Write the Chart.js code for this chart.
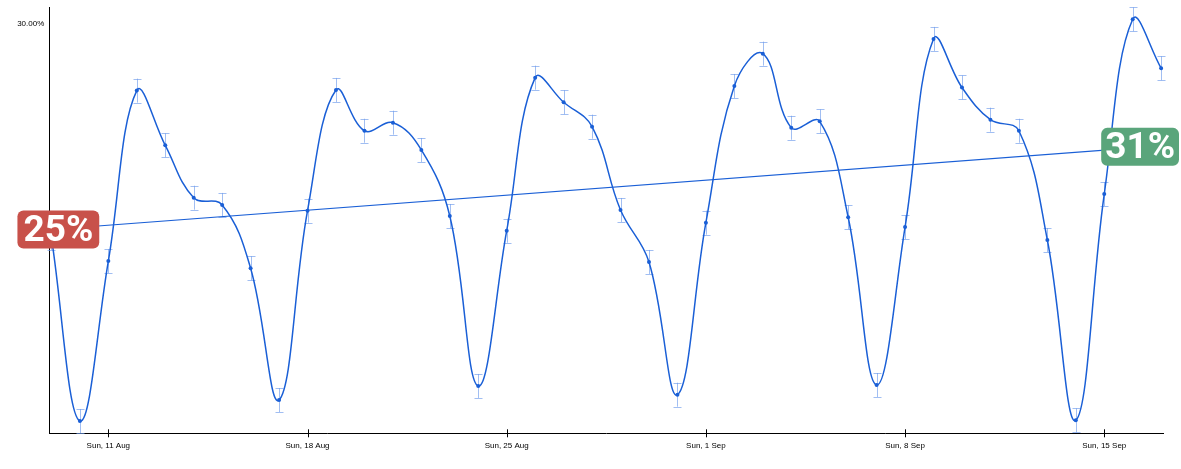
<!DOCTYPE html>
<html>
<head>
<meta charset="utf-8">
<title>Daily rate</title>
<script src="https://cdn.jsdelivr.net/npm/chart.js"></script>
<style>
    html, body { margin: 0; padding: 0; background: #fff; }
    #wrap { width: 1181px; height: 469px; position: relative; }
</style>
</head>
<body>
<div id="wrap"><canvas id="rateChart"></canvas></div>
<script>
// Days shown on the x axis (2024)
const dates = [
    "9 Aug", "10 Aug", "11 Aug", "12 Aug", "13 Aug", "14 Aug", "15 Aug", "16 Aug", "17 Aug", "18 Aug",
    "19 Aug", "20 Aug", "21 Aug", "22 Aug", "23 Aug", "24 Aug", "25 Aug", "26 Aug", "27 Aug", "28 Aug",
    "29 Aug", "30 Aug", "31 Aug", "1 Sep", "2 Sep", "3 Sep", "4 Sep", "5 Sep", "6 Sep", "7 Sep",
    "8 Sep", "9 Sep", "10 Sep", "11 Sep", "12 Sep", "13 Sep", "14 Sep", "15 Sep", "16 Sep", "17 Sep"
];

// Daily rate in %
const rates = [
    14.32, 0.90, 12.63, 25.12, 21.11, 17.27, 16.74, 12.10, 2.44, 16.32,
    25.17, 22.18, 22.77, 20.77, 15.93, 3.47, 14.85, 26.07, 24.27, 22.48,
    16.37, 12.56, 2.83, 15.44, 25.46, 27.83, 22.40, 22.87, 15.84, 3.54,
    15.12, 28.91, 25.35, 22.99, 22.18, 14.17, 0.95, 17.54, 30.35, 26.76
];

// +/- error on each day (%)
const errors = [
    0.88, 0.88, 0.88, 0.88, 0.88, 0.88, 0.88, 0.88, 0.88, 0.88,
    0.88, 0.88, 0.88, 0.88, 0.88, 0.88, 0.88, 0.88, 0.88, 0.88,
    0.88, 0.88, 0.88, 0.88, 0.88, 0.88, 0.88, 0.88, 0.88, 0.88,
    0.88, 0.88, 0.88, 0.88, 0.88, 0.88, 0.88, 0.88, 0.88, 0.88
];

// Trend line start / end values and the badges shown on them
const trendValues = [14.94, 21.07];
const trendBadges = ["25%", "31%"];

// Tick labels
const xTickLabels = ["Sun, 11 Aug", "Sun, 18 Aug", "Sun, 25 Aug", "Sun, 1 Sep", "Sun, 8 Sep", "Sun, 15 Sep"];
const xTickDates = ["11 Aug", "18 Aug", "25 Aug", "1 Sep", "8 Sep", "15 Sep"];
const yTickValues = [30];

const lineColor = "#1a5fd6";
const errorColor = "rgba(110, 155, 235, 0.65)";

/* --------------------------
   Plugins
---------------------------- */
// Error bars behind the line
const errorBarPlugin = {
    id: "errorBars",
    beforeDatasetsDraw(chart) {
        const ctx = chart.ctx;
        const x = chart.scales.x;
        const y = chart.scales.y;
        ctx.save();
        ctx.strokeStyle = errorColor;
        ctx.lineWidth = 1;
        rates.forEach((v, i) => {
            const px = Math.round(x.getPixelForValue(i)) + 0.5;
            const top = y.getPixelForValue(v + errors[i]);
            const bottom = y.getPixelForValue(v - errors[i]);
            ctx.beginPath();
            ctx.moveTo(px, top);
            ctx.lineTo(px, bottom);
            ctx.moveTo(px - 4, Math.round(top) + 0.5);
            ctx.lineTo(px + 4, Math.round(top) + 0.5);
            ctx.moveTo(px - 4, Math.round(bottom) + 0.5);
            ctx.lineTo(px + 4, Math.round(bottom) + 0.5);
            ctx.stroke();
        });
        ctx.restore();
    }
};

// Tick marks across the x axis and the two trend badges
function roundRect(ctx, x, y, w, h, r) {
    ctx.beginPath();
    ctx.moveTo(x + r, y);
    ctx.arcTo(x + w, y, x + w, y + h, r);
    ctx.arcTo(x + w, y + h, x, y + h, r);
    ctx.arcTo(x, y + h, x, y, r);
    ctx.arcTo(x, y, x + w, y, r);
    ctx.closePath();
}

const overlayPlugin = {
    id: "overlay",
    afterDraw(chart) {
        const ctx = chart.ctx;
        const x = chart.scales.x;
        const y = chart.scales.y;
        const area = chart.chartArea;
        ctx.save();
        ctx.strokeStyle = "#000";
        ctx.lineWidth = 1;
        x.ticks.forEach(t => {
            const px = Math.round(x.getPixelForValue(t.value)) + 0.5;
            ctx.beginPath();
            ctx.moveTo(px, area.bottom - 4);
            ctx.lineTo(px, area.bottom + 4);
            ctx.stroke();
        });

        ctx.font = "bold 37px Roboto";
        ctx.textAlign = "center";
        ctx.textBaseline = "middle";
        const h = 38;
        // left badge
        let w = ctx.measureText(trendBadges[0]).width + 12;
        let cy = y.getPixelForValue(trendValues[0]);
        let left = x.getPixelForValue(0) - 34;
        ctx.fillStyle = "#c8514a";
        roundRect(ctx, left, cy - h / 2, w, h, 6);
        ctx.fill();
        ctx.fillStyle = "#fff";
        ctx.fillText(trendBadges[0], left + w / 2, cy + 2);
        // right badge, kept inside the canvas
        w = ctx.measureText(trendBadges[1]).width + 8;
        cy = y.getPixelForValue(trendValues[1]) + 1;
        left = chart.width - 2 - w;
        ctx.fillStyle = "#5aa57b";
        roundRect(ctx, left, cy - h / 2, w, h, 6);
        ctx.fill();
        ctx.fillStyle = "#fff";
        ctx.fillText(trendBadges[1], left + w / 2, cy + 2);
        ctx.restore();
    }
};

/* --------------------------
   Chart
---------------------------- */
function renderRateChart() {
    const ctx = document.getElementById("rateChart").getContext("2d");
    new Chart(ctx, {
        type: "line",
        data: {
            datasets: [{
                label: "Rate",
                data: rates.map((v, i) => ({ x: i, y: v })),
                borderColor: lineColor,
                backgroundColor: lineColor,
                borderWidth: 1.5,
                pointRadius: 2,
                pointBorderWidth: 0,
                tension: 0.4,
                fill: false
            }, {
                label: "Trend",
                data: [{ x: 0, y: trendValues[0] }, { x: dates.length - 1, y: trendValues[1] }],
                borderColor: lineColor,
                borderWidth: 1.2,
                pointRadius: 0,
                tension: 0,
                fill: false
            }]
        },
        options: {
            responsive: true,
            maintainAspectRatio: false,
            animation: false,
            layout: { padding: { top: 7, right: 17.7, left: 0, bottom: 0 } },
            plugins: {
                legend: { display: false },
                tooltip: { enabled: false }
            },
            scales: {
                x: {
                    type: "linear",
                    min: -0.075,
                    max: dates.length - 1 + 0.075,
                    grid: { display: false, drawTicks: false },
                    border: { display: true, color: "#000", width: 1 },
                    afterBuildTicks: axis => {
                        axis.ticks = xTickDates.map(d => ({ value: dates.indexOf(d) }));
                    },
                    afterFit: axis => {
                        axis.height = 35.7;
                        axis.paddingLeft = 0;
                        axis.paddingRight = 0;
                    },
                    ticks: {
                        autoSkip: false,
                        maxRotation: 0,
                        padding: 8,
                        color: "#000",
                        font: { family: "Arial, 'Liberation Sans', sans-serif", size: 8 },
                        callback: value => xTickLabels[xTickDates.indexOf(dates[value])]
                    }
                },
                y: {
                    min: 0,
                    max: 31.25,
                    grid: { display: false, drawTicks: false },
                    border: { display: true, color: "#000", width: 1 },
                    afterBuildTicks: axis => {
                        axis.ticks = yTickValues.map(v => ({ value: v }));
                    },
                    afterFit: axis => {
                        axis.width = 49.3;
                        axis.paddingTop = 0;
                        axis.paddingBottom = 0;
                    },
                    ticks: {
                        padding: 5,
                        color: "#000",
                        font: { family: "Arial, 'Liberation Sans', sans-serif", size: 8 },
                        callback: value => value.toFixed(2) + "%"
                    }
                }
            }
        },
        plugins: [errorBarPlugin, overlayPlugin]
    });
}

renderRateChart();
</script>
</body>
</html>
